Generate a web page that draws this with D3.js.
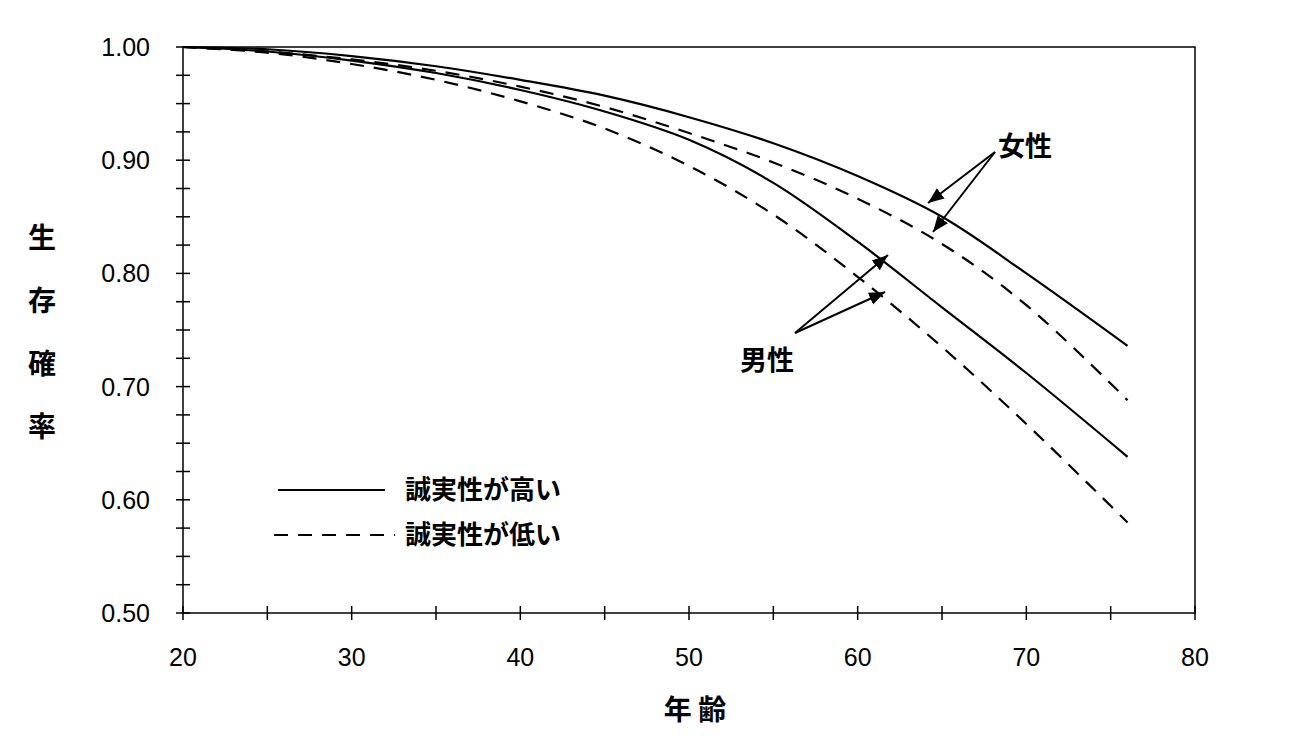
<!DOCTYPE html><html><head><meta charset="utf-8">
<script src="https://cdn.jsdelivr.net/npm/d3@7"></script>
<style>body{margin:0;background:#fff}text{font-family:"Noto Sans CJK JP","Liberation Sans",sans-serif}text.num{font-family:"Liberation Sans",Arial,sans-serif}</style></head>
<body><svg id="c" width="1298" height="743"></svg><script>
const ages=[20,25,30,35,40,45,50,55,60,65,70,76];
const femaleHigh=[1.0,0.998,0.992,0.983,0.971,0.957,0.938,0.915,0.886,0.850,0.800,0.736];
const femaleLow=[1.0,0.996,0.989,0.979,0.965,0.947,0.924,0.898,0.866,0.826,0.772,0.688];
const maleHigh=[1.0,0.996,0.988,0.977,0.962,0.943,0.918,0.880,0.828,0.770,0.712,0.638];
const maleLow=[1.0,0.995,0.985,0.971,0.952,0.928,0.895,0.852,0.797,0.735,0.667,0.580];
const xTicks=[20,30,40,50,60,70,80];
const yTicks=[0.5,0.6,0.7,0.8,0.9,1.0];
const svg=d3.select("#c");
const x=d3.scaleLinear().domain([20,80]).range([183,1195]);
const y=d3.scaleLinear().domain([0.5,1.0]).range([613,47]);
svg.append("rect").attr("x",183).attr("y",47).attr("width",1012).attr("height",566).attr("fill","none").attr("stroke","#000").attr("stroke-width",1.5);
d3.range(20,81,5).forEach(v=>svg.append("line").attr("x1",x(v)).attr("x2",x(v)).attr("y1",606).attr("y2",620).attr("stroke","#000").attr("stroke-width",1.5));
xTicks.forEach(v=>svg.append("text").attr("class","num").attr("x",x(v)).attr("y",666).attr("text-anchor","middle").attr("font-size",25).text(v));
d3.range(0.5,1.001,0.025).forEach(v=>svg.append("line").attr("x1",176).attr("x2",190).attr("y1",y(v)).attr("y2",y(v)).attr("stroke","#000").attr("stroke-width",1.5));
yTicks.forEach(v=>svg.append("text").attr("class","num").attr("x",150).attr("y",y(v)+9).attr("text-anchor","end").attr("font-size",25).text(v.toFixed(2)));
const line=d3.line().x((d,i)=>x(ages[i])).y(d=>y(d)).curve(d3.curveCatmullRom);
[[femaleHigh,null],[femaleLow,"14,10"],[maleHigh,null],[maleLow,"14,10"]].forEach(([s,da])=>{
 svg.append("path").attr("d",line(s)).attr("fill","none").attr("stroke","#000").attr("stroke-width",2.2).attr("stroke-dasharray",da);});
"生存確率".split("").forEach((c,i)=>svg.append("text").attr("x",42).attr("y",248+i*63).attr("text-anchor","middle").attr("font-size",28).attr("font-weight","bold").text(c));
svg.append("text").attr("x",695).attr("y",720).attr("text-anchor","middle").attr("font-size",28).attr("font-weight","bold").text("年 齢");
svg.append("defs").append("marker").attr("id","ar").attr("viewBox","0 0 10 10").attr("refX",10).attr("refY",5).attr("markerWidth",8).attr("markerHeight",8).attr("orient","auto").append("path").attr("d","M0,1L10,5L0,9z");
function arrow(x1,y1,x2,y2){svg.append("line").attr("x1",x1).attr("y1",y1).attr("x2",x2).attr("y2",y2).attr("stroke","#000").attr("stroke-width",2).attr("marker-end","url(#ar)");}
svg.append("text").attr("x",998).attr("y",156).attr("font-size",27).attr("font-weight","bold").text("女性");
arrow(995,152,928,203);arrow(995,152,933,232);
svg.append("text").attr("x",740).attr("y",370).attr("font-size",27).attr("font-weight","bold").text("男性");
arrow(795,333,888,255);arrow(795,333,885,292);
svg.append("line").attr("x1",278).attr("x2",385).attr("y1",490).attr("y2",490).attr("stroke","#000").attr("stroke-width",2.2);
svg.append("line").attr("x1",274).attr("x2",395).attr("y1",535).attr("y2",535).attr("stroke","#000").attr("stroke-width",2.2).attr("stroke-dasharray","14,10");
svg.append("text").attr("x",405).attr("y",499).attr("font-size",26).attr("font-weight","bold").text("誠実性が高い");
svg.append("text").attr("x",405).attr("y",544).attr("font-size",26).attr("font-weight","bold").text("誠実性が低い");
</script></body></html>
